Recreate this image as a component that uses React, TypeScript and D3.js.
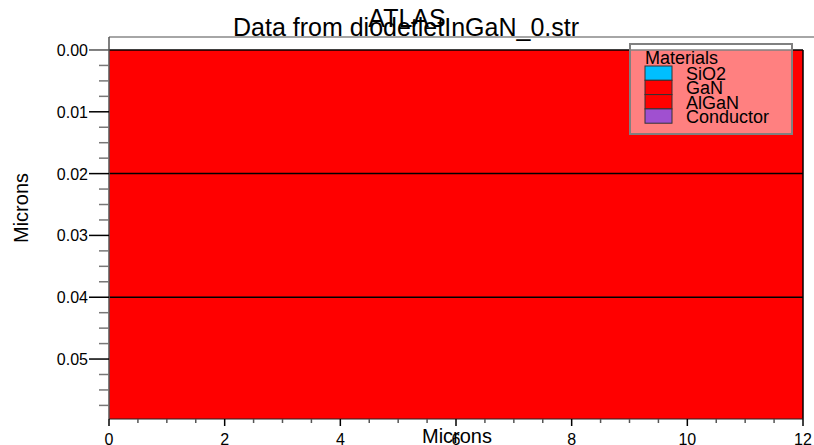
import React from "react";
import * as d3 from "d3";

// Structure layers (depth in microns) and their materials
const layerMaterials = ["GaN", "AlGaN", "GaN"];
const layerTops = [0.0, 0.02, 0.04];
const layerBottoms = [0.02, 0.04, 0.0597];
const deviceWidth = [0, 12];

// Legend entries
const legendNames = ["SiO2", "GaN", "AlGaN", "Conductor"];
const legendColors = ["#00bfff", "#ff0000", "#ff0000", "#a050d0"];

// Axis ticks
const xMajorTicks = [0, 2, 4, 6, 8, 10, 12];
const yMajorTicks = [0.0, 0.01, 0.02, 0.03, 0.04, 0.05];

const W = 814;
const H = 445;
const FONT = "'Liberation Sans', Arial, sans-serif";

export default function App() {
  const x = d3.scaleLinear().domain([0, 12]).range([109, 803]);
  const y = d3.scaleLinear().domain([-0.0021, 0.0597]).range([37, 419]);

  const colorOf = (m: string) => legendColors[legendNames.indexOf(m)];

  const xMinor = d3.range(0, 12.001, 0.5).filter((v) => Math.abs(v % 2) > 1e-6);
  const yMinor = d3
    .range(0, 0.0597, 0.0025)
    .filter((v) => Math.abs((v * 100) % 1) > 1e-6 && Math.abs((v * 100) % 1) < 0.999);

  const [x0, x1] = x.range();
  const [y0, y1] = y.range();

  return (
    <svg width={W} height={H} style={{ position: "absolute", left: 0, top: 0, background: "#fff" }}>
      <rect x={0} y={0} width={W} height={H} fill="#fff" />
      {/* material regions */}
      {layerMaterials.map((m, i) => (
        <rect
          key={i}
          x={x(deviceWidth[0])}
          y={y(layerTops[i])}
          width={x(deviceWidth[1]) - x(deviceWidth[0])}
          height={y(layerBottoms[i]) - y(layerTops[i])}
          fill={colorOf(m)}
        />
      ))}
      {/* region boundaries */}
      {layerTops.map((t, i) => (
        <line key={i} x1={x(0)} x2={x(12)} y1={y(t)} y2={y(t)} stroke="#000" strokeWidth={1.5} />
      ))}
      <line x1={x(12)} x2={x(12)} y1={y(0)} y2={y(0.0597)} stroke="#000" strokeWidth={1.5} />
      {/* plot frame */}
      <line x1={x0} x2={W} y1={y0} y2={y0} stroke="#888" strokeWidth={1.5} />
      <line x1={x0} x2={x0} y1={y0} y2={y1} stroke="#555" strokeWidth={1.5} />
      <line x1={x0} x2={x1} y1={y1} y2={y1} stroke="#222" strokeWidth={1} />

      {/* y axis ticks */}
      {yMajorTicks.map((v) => (
        <g key={v}>
          <line x1={x0 - 20} x2={x0} y1={y(v)} y2={y(v)} stroke={v === 0 ? "#555" : "#000"} strokeWidth={1.5} />
          <text x={x0 - 21} y={y(v) + 6} textAnchor="end" fontFamily={FONT} fontSize={16} fill="#000">
            {d3.format(".2f")(v)}
          </text>
        </g>
      ))}
      {yMinor.map((v, i) => (
        <line key={i} x1={x0 - 10} x2={x0} y1={y(v)} y2={y(v)} stroke="#777" strokeWidth={1.5} />
      ))}

      {/* x axis ticks */}
      {xMajorTicks.map((v) => (
        <g key={v}>
          <line x1={x(v)} x2={x(v)} y1={y1} y2={y1 + 7} stroke="#000" strokeWidth={1.5} />
          <text x={x(v)} y={y1 + 26} textAnchor="middle" fontFamily={FONT} fontSize={16} fill="#000">
            {v}
          </text>
        </g>
      ))}
      {xMinor.map((v, i) => (
        <line key={i} x1={x(v)} x2={x(v)} y1={y1} y2={y1 + 4} stroke="#555" strokeWidth={1.5} />
      ))}

      {/* titles */}
      <text x={407} y={27} textAnchor="middle" fontFamily={FONT} fontSize={25} fill="#000">
        ATLAS
      </text>
      <text x={406} y={36} textAnchor="middle" fontFamily={FONT} fontSize={25} fill="#000">
        Data from diodetletInGaN_0.str
      </text>
      <text x={457} y={443} textAnchor="middle" fontFamily={FONT} fontSize={20} fill="#000">
        Microns
      </text>
      <text
        transform="translate(28,208) rotate(-90)"
        textAnchor="middle"
        fontFamily={FONT}
        fontSize={20}
        fill="#000"
      >
        Microns
      </text>

      {/* legend */}
      <g>
        <rect x={630} y={44} width={162} height={90} fill="#fff" fillOpacity={0.5} stroke="#808080" strokeWidth={2} />
        <text x={645} y={64} fontFamily={FONT} fontSize={18} fill="#000">
          Materials
        </text>
        {legendNames.map((n, i) => (
          <g key={n}>
            <rect x={645} y={66 + i * 14.3} width={27} height={14.3} fill={legendColors[i]} stroke="#333" strokeWidth={1} />
            <text x={686} y={80 + i * 14.3} fontFamily={FONT} fontSize={18} fill="#000">
              {n}
            </text>
          </g>
        ))}
      </g>
    </svg>
  );
}
